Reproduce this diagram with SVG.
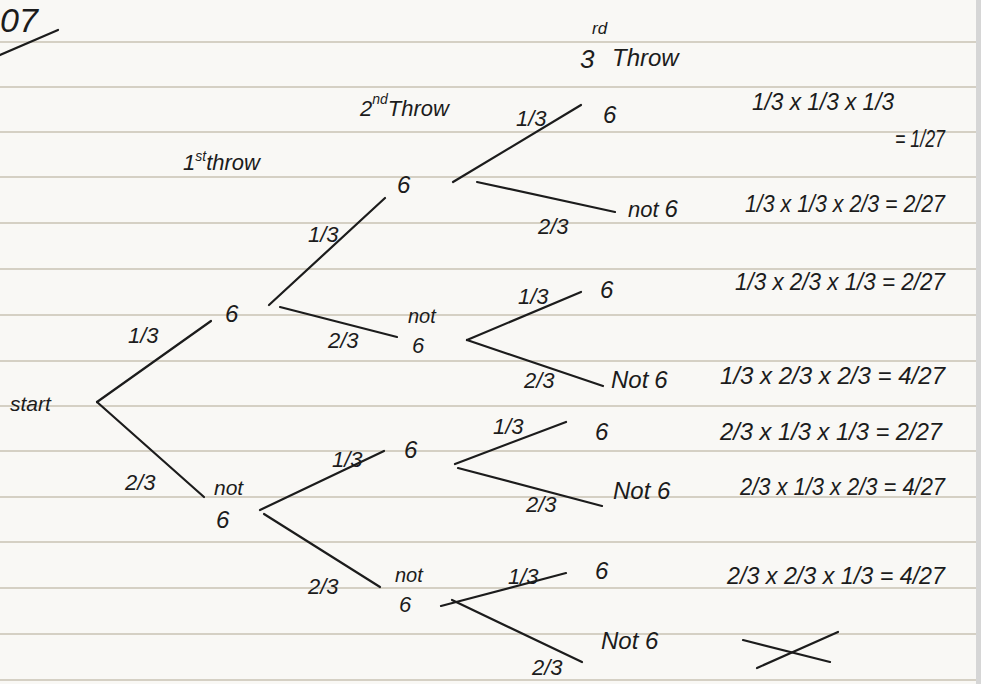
<svg xmlns="http://www.w3.org/2000/svg" width="981" height="684" viewBox="0 0 981 684">
<defs>
<style>
.paper{fill:#f9f8f5}
.rule{stroke:#c9c3b3;stroke-width:1.6}
.edge{stroke:#1c1c1c;stroke-width:2.2;fill:none;stroke-linecap:round}
.t{font-family:"Liberation Sans","DejaVu Sans",sans-serif;font-style:italic;fill:#1c1c1c}
.node{font-size:24px}
.lbl{font-size:22px}
.hdr{font-size:22px}
.calc{font-size:24px}
.sup{font-size:14px}
</style>
</defs>
<rect class="paper" x="0" y="0" width="981" height="684"/>
<rect x="976" y="0" width="5" height="684" fill="#d6d6d6"/>
<g id="ruled-lines">
<line class="rule" x1="0" y1="42" x2="976" y2="42"/>
<line class="rule" x1="0" y1="87" x2="976" y2="87"/>
<line class="rule" x1="0" y1="132" x2="976" y2="132"/>
<line class="rule" x1="0" y1="177" x2="976" y2="177"/>
<line class="rule" x1="0" y1="223" x2="976" y2="223"/>
<line class="rule" x1="0" y1="269" x2="976" y2="269"/>
<line class="rule" x1="0" y1="315" x2="976" y2="315"/>
<line class="rule" x1="0" y1="361" x2="976" y2="361"/>
<line class="rule" x1="0" y1="406" x2="976" y2="406"/>
<line class="rule" x1="0" y1="451" x2="976" y2="451"/>
<line class="rule" x1="0" y1="497" x2="976" y2="497"/>
<line class="rule" x1="0" y1="542" x2="976" y2="542"/>
<line class="rule" x1="0" y1="588" x2="976" y2="588"/>
<line class="rule" x1="0" y1="634" x2="976" y2="634"/>
<line class="rule" x1="0" y1="680" x2="976" y2="680"/>
</g>
<g id="title">
<text class="t" x="0" y="32" font-size="34">07</text>
<line class="edge" x1="0" y1="55" x2="58" y2="30"/>
</g>
<g id="headers">
<text class="t hdr" x="183" y="170">1<tspan class="sup" dy="-9">st</tspan><tspan dy="9">throw</tspan></text>
<text class="t hdr" x="360" y="116">2<tspan class="sup" dy="-12">nd</tspan><tspan dy="12">Throw</tspan></text>
<text class="t" font-size="26" x="580" y="68">3</text>
<text class="t" font-size="17" x="592" y="34">rd</text>
<text class="t" font-size="24" x="612" y="66">Throw</text>
</g>
<g id="connectors">
<line class="edge" x1="97" y1="402" x2="211" y2="321"/>
<line class="edge" x1="97" y1="402" x2="204" y2="497"/>
<line class="edge" x1="269" y1="305" x2="385" y2="198"/>
<line class="edge" x1="280" y1="307" x2="397" y2="337"/>
<line class="edge" x1="453" y1="182" x2="581" y2="105"/>
<line class="edge" x1="477" y1="182" x2="615" y2="212"/>
<line class="edge" x1="467" y1="340" x2="581" y2="292"/>
<line class="edge" x1="467" y1="340" x2="603" y2="386"/>
<line class="edge" x1="260" y1="510" x2="384" y2="451"/>
<line class="edge" x1="264" y1="514" x2="380" y2="587"/>
<line class="edge" x1="455" y1="464" x2="566" y2="422"/>
<line class="edge" x1="458" y1="468" x2="602" y2="506"/>
<line class="edge" x1="441" y1="606" x2="566" y2="573"/>
<line class="edge" x1="452" y1="600" x2="582" y2="662"/>
</g>
<g id="edge-labels">
<text class="t lbl" x="128" y="343">1/3</text>
<text class="t lbl" x="125" y="490" font-size="28">2/3</text>
<text class="t lbl" x="308" y="242">1/3</text>
<text class="t lbl" x="328" y="348">2/3</text>
<text class="t lbl" x="516" y="126">1/3</text>
<text class="t lbl" x="538" y="234">2/3</text>
<text class="t lbl" x="518" y="304">1/3</text>
<text class="t lbl" x="524" y="388">2/3</text>
<text class="t lbl" x="332" y="467">1/3</text>
<text class="t lbl" x="308" y="594" font-size="24">2/3</text>
<text class="t lbl" x="493" y="434">1/3</text>
<text class="t lbl" x="526" y="512">2/3</text>
<text class="t lbl" x="508" y="584">1/3</text>
<text class="t lbl" x="532" y="675">2/3</text>
</g>
<g id="node-start"><text class="t" font-size="21" x="10" y="411">start</text></g>
<g id="node-1-six"><text class="t node" x="225" y="322">6</text></g>
<g id="node-1-not6"><text class="t" font-size="21" x="214" y="495">not</text><text class="t node" x="216" y="528">6</text></g>
<g id="node-2-six-a"><text class="t node" x="397" y="193">6</text></g>
<g id="node-2-not6-a"><text class="t" font-size="20" x="408" y="323">not</text><text class="t" font-size="22" x="412" y="353">6</text></g>
<g id="node-2-six-b"><text class="t node" x="404" y="458">6</text></g>
<g id="node-2-not6-b"><text class="t" font-size="20" x="395" y="582">not</text><text class="t" font-size="22" x="399" y="612">6</text></g>
<g id="leaf-1"><text class="t node" x="603" y="123">6</text></g>
<g id="leaf-2"><text class="t" font-size="22" x="628" y="217">not<tspan dx="6" font-size="24">6</tspan></text></g>
<g id="leaf-3"><text class="t node" x="600" y="298">6</text></g>
<g id="leaf-4"><text class="t" font-size="24" x="611" y="388">Not<tspan dx="6">6</tspan></text></g>
<g id="leaf-5"><text class="t node" x="595" y="440">6</text></g>
<g id="leaf-6"><text class="t" font-size="24" x="613" y="499">Not 6</text></g>
<g id="leaf-7"><text class="t node" x="595" y="579">6</text></g>
<g id="leaf-8"><text class="t" font-size="24" x="601" y="649">Not 6</text></g>
<g id="calculations">
<text class="t calc" x="752" y="110" textLength="142" lengthAdjust="spacingAndGlyphs">1/3 x 1/3 x 1/3</text>
<text class="t calc" x="895" y="147" textLength="50" lengthAdjust="spacingAndGlyphs">= 1/27</text>
<text class="t calc" x="745" y="212" textLength="200" lengthAdjust="spacingAndGlyphs">1/3 x 1/3 x 2/3 = 2/27</text>
<text class="t calc" x="735" y="290" textLength="210" lengthAdjust="spacingAndGlyphs">1/3 x 2/3 x 1/3 = 2/27</text>
<text class="t calc" x="720" y="384" textLength="225" lengthAdjust="spacingAndGlyphs">1/3 x 2/3 x 2/3 = 4/27</text>
<text class="t calc" x="720" y="440" textLength="222" lengthAdjust="spacingAndGlyphs">2/3 x 1/3 x 1/3 = 2/27</text>
<text class="t calc" x="740" y="495" textLength="205" lengthAdjust="spacingAndGlyphs">2/3 x 1/3 x 2/3 = 4/27</text>
<text class="t calc" x="727" y="584" textLength="218" lengthAdjust="spacingAndGlyphs">2/3 x 2/3 x 1/3 = 4/27</text>
<line class="edge" x1="743" y1="640" x2="830" y2="662"/>
<line class="edge" x1="757" y1="668" x2="838" y2="632"/>
</g>
</svg>
